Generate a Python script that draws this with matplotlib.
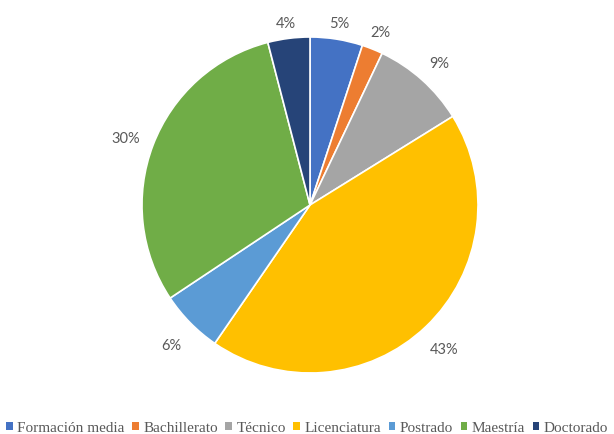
import numpy as np
import matplotlib.pyplot as plt
from matplotlib.patches import Patch

categories = ['Formación media', 'Bachillerato', 'Técnico', 'Licenciatura',
              'Postrado', 'Maestría', 'Doctorado']
values = [5, 2, 9, 43, 6, 30, 4]
colors = ['#4472C4', '#ED7D31', '#A5A5A5', '#FFC000', '#5B9BD5', '#70AD47', '#264478']

fig = plt.figure(figsize=(6.14, 4.34), dpi=100)
# pie area: centre ~ (310,205) px, radius ~168 px
ax = fig.add_axes([(310 - 168) / 614, (434 - 373) / 434, 336 / 614, 336 / 434])
wedges, _ = ax.pie(values, colors=colors, startangle=90, counterclock=False,
                   radius=1.0, wedgeprops=dict(edgecolor='white', linewidth=1.2))
ax.set_xlim(-1, 1)
ax.set_ylim(-1, 1)
ax.set_aspect('equal')
ax.axis('off')

for w, v in zip(wedges, values):
    ang = np.deg2rad((w.theta1 + w.theta2) / 2.0)
    c, s = np.cos(ang), np.sin(ang)
    r = 1.175 - 0.065 * s ** 4   # labels sit closer near the top
    ax.text(r * c, r * s - 0.024, '%d%%' % v, ha='center', va='center',
            fontsize=10.5, color='#595959', family=['Lato', 'DejaVu Sans'])

handles = [Patch(facecolor=col, edgecolor='none') for col in colors]
fig.legend(handles, categories, loc='center', bbox_to_anchor=(0.5, 1 - 428 / 434),
           ncol=7, frameon=False, handlelength=0.42, handleheight=0.42,
           handletextpad=0.3, columnspacing=0.5,
           prop={'family': 'Liberation Serif', 'size': 11}, labelcolor='#595959')

fig.savefig('out.png', dpi=100)
